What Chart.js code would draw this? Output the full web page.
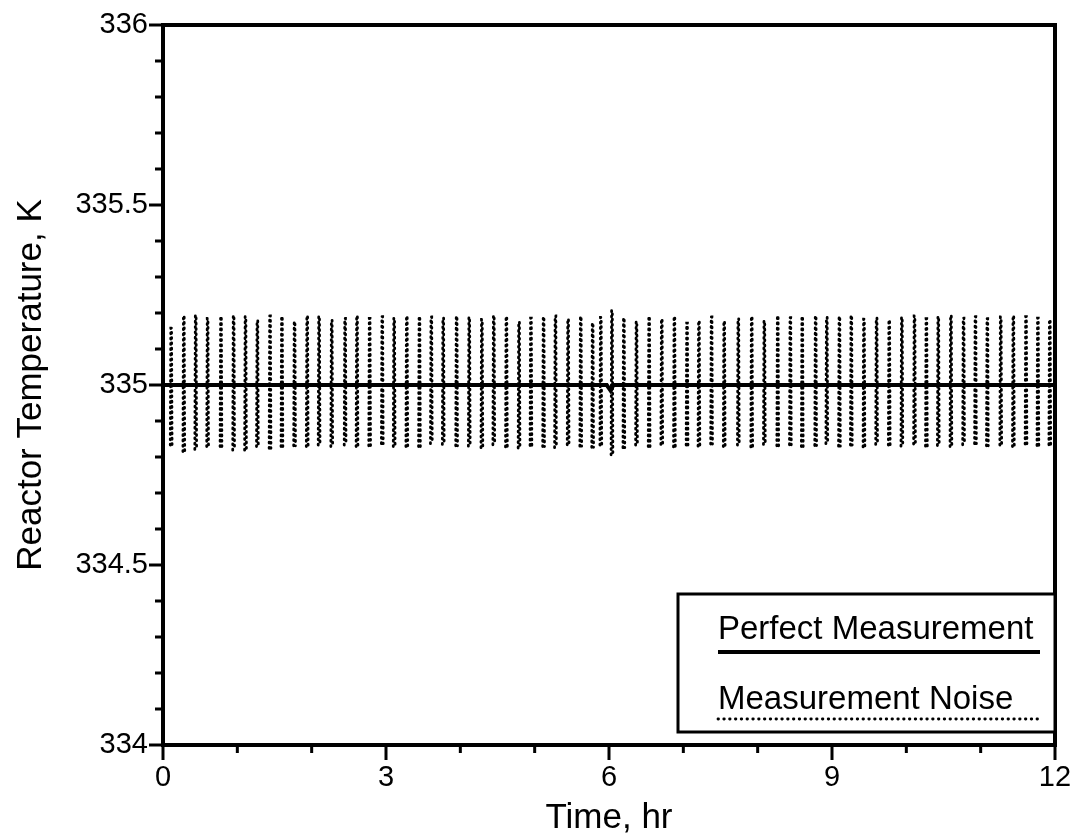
<!DOCTYPE html>
<html><head><meta charset="utf-8">
<script src="https://cdn.jsdelivr.net/npm/chart.js@4.4.1/dist/chart.umd.min.js"></script>
<style>html,body{margin:0;padding:0;background:#fff;}#wrap{width:1071px;height:839px;}</style>
</head><body><div id="wrap"><canvas id="c" width="1071" height="839"></canvas></div>
<script>
const xAxisTitle = 'Time, hr';
const yAxisTitle = 'Reactor Temperature, K';
const seriesNames = ['Perfect Measurement', 'Measurement Noise'];
const xMin = 0, xMax = 12, xStep = 1, xLabelEvery = 3;
const yMin = 334, yMax = 336, yStep = 0.1, yLabelEvery = 0.5;

const perfectTimes  = [0, 5.97, 6.02, 6.06, 12];
const perfectValues = [335, 335, 334.985, 335, 335];

const noiseTimes = [
  0.11, 0.28, 0.44, 0.60, 0.78, 0.95, 1.11, 1.27, 1.44, 1.60,
  1.77, 1.94, 2.10, 2.27, 2.45, 2.61, 2.78, 2.95, 3.11, 3.28,
  3.45, 3.61, 3.77, 3.95, 4.12, 4.29, 4.45, 4.62, 4.79, 4.95,
  5.12, 5.28, 5.45, 5.62, 5.78, 5.89, 6.04, 6.20, 6.37, 6.54,
  6.71, 6.88, 7.05, 7.21, 7.38, 7.55, 7.74, 7.92, 8.09, 8.27,
  8.44, 8.60, 8.78, 8.93, 9.10, 9.26, 9.43, 9.60, 9.77, 9.94,
  10.11, 10.27, 10.43, 10.60, 10.77, 10.93, 11.09, 11.27, 11.44, 11.61,
  11.77, 11.93
];
const noiseHighs = [
  335.158, 335.192, 335.194, 335.185, 335.190, 335.193, 335.190, 335.179, 335.192, 335.190,
  335.176, 335.192, 335.191, 335.180, 335.185, 335.192, 335.185, 335.190, 335.186, 335.191,
  335.190, 335.189, 335.186, 335.191, 335.188, 335.182, 335.193, 335.190, 335.175, 335.186,
  335.189, 335.192, 335.183, 335.190, 335.172, 335.188, 335.207, 335.186, 335.176, 335.190,
  335.183, 335.190, 335.172, 335.178, 335.189, 335.177, 335.184, 335.190, 335.178, 335.192,
  335.187, 335.190, 335.192, 335.188, 335.190, 335.193, 335.183, 335.186, 335.180, 335.188,
  335.192, 335.184, 335.190, 335.193, 335.186, 335.190, 335.184, 335.189, 335.192, 335.190,
  335.186, 335.181
];
const noiseLows = [
  334.833, 334.815, 334.821, 334.829, 334.829, 334.819, 334.819, 334.829, 334.824, 334.829,
  334.831, 334.829, 334.833, 334.829, 334.833, 334.829, 334.831, 334.837, 334.829, 334.829,
  334.829, 334.837, 334.835, 334.831, 334.830, 334.826, 334.834, 334.828, 334.825, 334.832,
  334.829, 334.826, 334.834, 334.830, 334.827, 334.833, 334.806, 334.826, 334.833, 334.829,
  334.835, 334.828, 334.833, 334.830, 334.836, 334.829, 334.833, 334.828, 334.835, 334.831,
  334.834, 334.829, 334.832, 334.837, 334.830, 334.833, 334.828, 334.835, 334.833, 334.830,
  334.836, 334.830, 334.832, 334.829, 334.834, 334.837, 334.831, 334.833, 334.829, 334.836,
  334.832, 334.834
];

const FONT = "'Liberation Sans', Arial, sans-serif";
Chart.defaults.font.family = FONT;
Chart.defaults.color = '#000';

const perfectPoints = perfectTimes.map((t, i) => ({x: t, y: perfectValues[i]}));
const noisePoints = [];
noiseTimes.forEach((t, i) => {
  noisePoints.push({x: t - 0.012, y: noiseLows[i]});
  noisePoints.push({x: t - 0.005, y: noiseHighs[i]});
  noisePoints.push({x: t + 0.005, y: noiseHighs[i]});
  noisePoints.push({x: t + 0.012, y: noiseLows[i]});
  noisePoints.push({x: t + 0.05, y: null});
});

const NOISE_DASH = [1, 4.3];

const decor = {
  id: 'decor',
  afterDraw(chart) {
    const {ctx, chartArea: a, scales: {x, y}} = chart;
    ctx.save();
    ctx.strokeStyle = '#000';
    ctx.lineCap = 'butt';
    ctx.lineWidth = 3;
    x.ticks.forEach(t => {
      const px = x.getPixelForValue(t.value);
      const major = Math.round(t.value) % xLabelEvery === 0;
      ctx.beginPath(); ctx.moveTo(px, a.bottom); ctx.lineTo(px, a.bottom + (major ? 15 : 8)); ctx.stroke();
    });
    y.ticks.forEach(t => {
      const py = y.getPixelForValue(t.value);
      const major = Math.round(t.value * 10) % Math.round(yLabelEvery * 10) === 0;
      ctx.beginPath(); ctx.moveTo(a.left, py); ctx.lineTo(a.left - (major ? 14 : 8), py); ctx.stroke();
    });
    ctx.lineWidth = 4;
    ctx.strokeRect(a.left, a.top, a.right - a.left, a.bottom - a.top);

    // legend
    const x0 = a.right - 377, y0 = a.bottom - 151, x1 = a.right, y1 = a.bottom - 13;
    ctx.fillStyle = '#fff';
    ctx.fillRect(x0, y0, x1 - x0, y1 - y0);
    ctx.lineWidth = 3;
    ctx.strokeRect(x0, y0, x1 - x0, y1 - y0);
    const ds = chart.data.datasets;
    ctx.fillStyle = '#000';
    ctx.font = '33px ' + FONT;
    ctx.textBaseline = 'alphabetic';
    ctx.textAlign = 'left';
    const tx = x0 + 40, lx1 = a.right - 15;
    ctx.fillText(ds[0].label, tx, y0 + 45);
    ctx.lineWidth = 4;
    ctx.beginPath(); ctx.moveTo(tx, y0 + 58); ctx.lineTo(lx1, y0 + 58); ctx.stroke();
    ctx.fillText(ds[1].label, tx, y0 + 115);
    ctx.lineWidth = 2.8; ctx.lineCap = 'round'; ctx.setLineDash([0.5, 5.3]);
    ctx.beginPath(); ctx.moveTo(tx, y0 + 125); ctx.lineTo(lx1, y0 + 125); ctx.stroke();
    ctx.restore();
  }
};

new Chart(document.getElementById('c'), {
  type: 'line',
  data: {
    datasets: [
      {label: seriesNames[0], data: perfectPoints, borderColor: '#000', borderWidth: 4,
       pointRadius: 0, tension: 0, fill: false},
      {label: seriesNames[1], data: noisePoints, borderColor: '#000', borderWidth: 2.8,
       borderDash: NOISE_DASH, borderCapStyle: 'round', pointRadius: 0, tension: 0,
       fill: false, spanGaps: false}
    ]
  },
  options: {
    responsive: false, animation: false, devicePixelRatio: 1,
    layout: {padding: {top: 25, right: 16, bottom: 0, left: 0}},
    plugins: {legend: {display: false}, tooltip: {enabled: false}},
    scales: {
      x: {
        type: 'linear', min: xMin, max: xMax,
        grid: {display: false, drawTicks: false}, border: {display: false},
        ticks: {stepSize: xStep, padding: 16, font: {size: 29}, maxRotation: 0, autoSkip: false,
          callback: v => (Math.round(v) % xLabelEvery === 0 ? String(v) : '')},
        title: {display: true, text: xAxisTitle, font: {size: 35}, padding: {top: 0, bottom: 0}},
        afterFit: s => { s.height = 94; s.paddingLeft = 0; s.paddingRight = 0; }
      },
      y: {
        type: 'linear', min: yMin, max: yMax,
        grid: {display: false, drawTicks: false}, border: {display: false},
        ticks: {stepSize: yStep, padding: 15, font: {size: 29}, autoSkip: false,
          callback: v => (Math.round(v * 10) % Math.round(yLabelEvery * 10) === 0 ? String(Math.round(v * 10) / 10) : '')},
        title: {display: true, text: yAxisTitle, font: {size: 35}, padding: {top: 10, bottom: 0}},
        afterFit: s => { s.width = 163; s.paddingTop = 0; s.paddingBottom = 0; }
      }
    }
  },
  plugins: [decor]
});
</script></body></html>
